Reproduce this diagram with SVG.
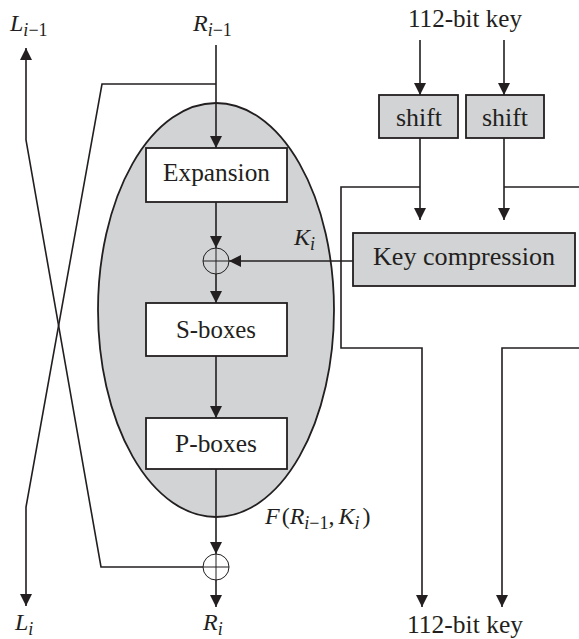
<svg xmlns="http://www.w3.org/2000/svg" width="579" height="639" viewBox="0 0 579 639">
<defs>
<style>
.ln{fill:none;stroke:#231f20;stroke-width:1.6}
.thin{fill:none;stroke:#231f20;stroke-width:1}
.box{fill:#ffffff;stroke:#231f20;stroke-width:1.8}
.gbox{fill:#d1d3d4;stroke:#231f20;stroke-width:1.8}
.lbl{font-family:"Liberation Serif",serif;font-size:25px;fill:#231f20;text-anchor:middle}
.math{font-family:"Liberation Serif",serif;font-size:24px;font-style:italic;fill:#231f20}
.sub{font-size:18px}
.up{font-style:normal}
</style>
<marker id="ah" viewBox="0 0 12 12" markerWidth="12" markerHeight="12" refX="12" refY="6" orient="auto" markerUnits="userSpaceOnUse">
<path d="M0,0 L12,6 L0,12 z" fill="#231f20"/>
</marker>
</defs>
<rect width="579" height="639" fill="#ffffff"/>

<g id="f-function">
<ellipse cx="216" cy="310" rx="118" ry="207" fill="#d1d3d4" stroke="#231f20" stroke-width="1.8"/>
</g>

<g id="connectors">
<line class="ln" x1="216" y1="45" x2="216" y2="148" marker-end="url(#ah)"/>
<polyline class="ln" points="216,84 102,84 26,507 26,606" marker-end="url(#ah)"/>
<polyline class="ln" points="203,567 101,567 26,140 26,48" marker-end="url(#ah)"/>
<line class="ln" x1="216" y1="202" x2="216" y2="248" marker-end="url(#ah)"/>
<line class="ln" x1="216" y1="274" x2="216" y2="303" marker-end="url(#ah)"/>
<line class="ln" x1="216" y1="356" x2="216" y2="418" marker-end="url(#ah)"/>
<line class="ln" x1="216" y1="469" x2="216" y2="554" marker-end="url(#ah)"/>
<line class="ln" x1="216" y1="580" x2="216" y2="607" marker-end="url(#ah)"/>
<line class="ln" x1="353" y1="261" x2="229" y2="261" marker-end="url(#ah)"/>
<line class="ln" x1="420" y1="40" x2="420" y2="95" marker-end="url(#ah)"/>
<line class="ln" x1="504" y1="40" x2="504" y2="95" marker-end="url(#ah)"/>
<line class="ln" x1="420" y1="138" x2="420" y2="220" marker-end="url(#ah)"/>
<line class="ln" x1="504" y1="138" x2="504" y2="220" marker-end="url(#ah)"/>
<polyline class="ln" points="420,187 341,187 341,348 422,348 422,607" marker-end="url(#ah)"/>
<polyline class="ln" points="504,187 579,187"/>
<polyline class="ln" points="579,348 502,348 502,607" marker-end="url(#ah)"/>
</g>

<g id="expansion">
<rect class="box" x="146" y="148" width="141" height="54"/>
<text class="lbl" x="216.5" y="181" textLength="107" lengthAdjust="spacingAndGlyphs">Expansion</text>
</g>

<g id="xor-key">
<circle cx="216" cy="261" r="13" class="thin"/>
<line class="thin" x1="203" y1="261" x2="229" y2="261"/>
<line class="thin" x1="216" y1="248" x2="216" y2="274"/>
</g>

<g id="s-boxes">
<rect class="box" x="146" y="303" width="141" height="53"/>
<text class="lbl" x="216" y="338" textLength="80" lengthAdjust="spacingAndGlyphs">S-boxes</text>
</g>

<g id="p-boxes">
<rect class="box" x="146" y="418" width="141" height="51"/>
<text class="lbl" x="216" y="452" textLength="82" lengthAdjust="spacingAndGlyphs">P-boxes</text>
</g>

<g id="xor-out">
<circle cx="216" cy="567" r="13" class="thin"/>
<line class="thin" x1="203" y1="567" x2="229" y2="567"/>
<line class="thin" x1="216" y1="554" x2="216" y2="580"/>
</g>

<g id="shift-left">
<rect class="gbox" x="379" y="95" width="79" height="43"/>
<text class="lbl" x="419" y="126" textLength="46" lengthAdjust="spacingAndGlyphs">shift</text>
</g>

<g id="shift-right">
<rect class="gbox" x="466" y="95" width="78" height="43"/>
<text class="lbl" x="505" y="126" textLength="46" lengthAdjust="spacingAndGlyphs">shift</text>
</g>

<g id="key-compression">
<rect class="gbox" x="353" y="233" width="222" height="53"/>
<text class="lbl" x="464" y="265" textLength="182" lengthAdjust="spacingAndGlyphs">Key compression</text>
</g>

<g id="labels">
<text class="lbl" x="465" y="27" textLength="114" lengthAdjust="spacingAndGlyphs">112-bit key</text>
<text class="lbl" x="465" y="633" textLength="116" lengthAdjust="spacingAndGlyphs">112-bit key</text>
<text class="math" x="10" y="31">L<tspan class="sub" dy="5">i</tspan><tspan class="up sub">−1</tspan></text>
<text class="math" x="193" y="31">R<tspan class="sub" dy="5">i</tspan><tspan class="up sub">−1</tspan></text>
<text class="math" x="294" y="245">K<tspan class="sub" dy="5">i</tspan></text>
<text class="math" x="265" y="524">F<tspan class="up" dx="2">(</tspan>R<tspan class="sub" dy="5">i</tspan><tspan class="up sub">−1</tspan><tspan class="up" dy="-5">,</tspan><tspan dx="4">K</tspan><tspan class="sub" dy="5">i</tspan><tspan class="up" dy="-5" dx="3">)</tspan></text>
<text class="math" x="15" y="630">L<tspan class="sub" dy="5">i</tspan></text>
<text class="math" x="203" y="630">R<tspan class="sub" dy="5">i</tspan></text>
</g>
</svg>
